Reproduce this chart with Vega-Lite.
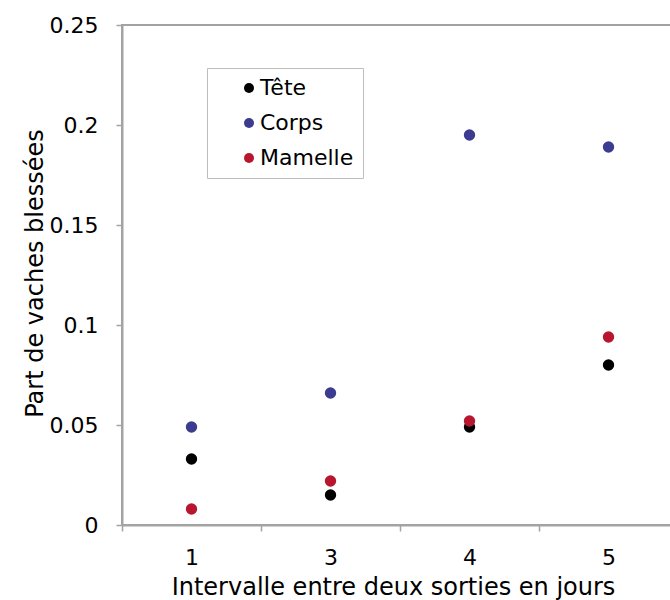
{
  "$schema": "https://vega.github.io/schema/vega-lite/v6.json",
  "width": 556,
  "height": 500,
  "autosize": {"type": "none"},
  "padding": {"left": 122, "top": 25, "right": 0, "bottom": 75},
  "background": "white",
  "config": {
    "font": "DejaVu Sans",
    "view": {"stroke": "#a3a3a3", "strokeWidth": 2},
    "axis": {"grid": false, "domainColor": "#a3a3a3", "domainWidth": 2, "tickColor": "#a3a3a3", "tickWidth": 1.5, "labelColor": "#000000", "titleColor": "#000000", "titleFontWeight": "normal"}
  },
  "data": {
    "values": [
      {"intervalle": "1", "type": "Tête", "part": 0.033},
      {"intervalle": "3", "type": "Tête", "part": 0.015},
      {"intervalle": "4", "type": "Tête", "part": 0.049},
      {"intervalle": "5", "type": "Tête", "part": 0.080},
      {"intervalle": "1", "type": "Corps", "part": 0.049},
      {"intervalle": "3", "type": "Corps", "part": 0.066},
      {"intervalle": "4", "type": "Corps", "part": 0.195},
      {"intervalle": "5", "type": "Corps", "part": 0.189},
      {"intervalle": "1", "type": "Mamelle", "part": 0.008},
      {"intervalle": "3", "type": "Mamelle", "part": 0.022},
      {"intervalle": "4", "type": "Mamelle", "part": 0.052},
      {"intervalle": "5", "type": "Mamelle", "part": 0.094}
    ]
  },
  "mark": {"type": "point", "filled": true, "size": 130, "opacity": 1},
  "encoding": {
    "x": {
      "field": "intervalle",
      "type": "ordinal",
      "sort": ["1", "3", "4", "5"],
      "scale": {"type": "band", "paddingInner": 0, "paddingOuter": 0},
      "axis": {
        "title": "Intervalle entre deux sorties en jours",
        "titleFontSize": 24,
        "titlePadding": 7,
        "titleX": 271,
        "labelAngle": 0,
        "labelFontSize": 22,
        "labelPadding": 16,
        "tickBand": "extent",
        "tickSize": 6
      }
    },
    "y": {
      "field": "part",
      "type": "quantitative",
      "scale": {"domain": [0, 0.25], "nice": false},
      "axis": {
        "title": "Part de vaches blessées",
        "titleFontSize": 24,
        "titleX": -87,
        "titleY": 248,
        "titleAngle": -90,
        "titleAlign": "center",
        "titleBaseline": "middle",
        "values": [0, 0.05, 0.1, 0.15, 0.2, 0.25],
        "format": "~g",
        "labelFontSize": 22,
        "labelPadding": 18,
        "tickSize": 6
      }
    },
    "color": {
      "field": "type",
      "type": "nominal",
      "scale": {"domain": ["Tête", "Corps", "Mamelle"], "range": ["#000000", "#3b3b8f", "#b8162f"]},
      "legend": {
        "title": null,
        "orient": "none",
        "legendX": 85,
        "legendY": 43,
        "strokeColor": "#bdbdbd",
        "fillColor": "#ffffff",
        "padding": 9,
        "symbolOffset": 22,
        "symbolType": "circle",
        "symbolSize": 100,
        "labelFontSize": 22,
        "labelColor": "#000000",
        "labelOffset": 0,
        "rowPadding": 13
      }
    }
  }
}
